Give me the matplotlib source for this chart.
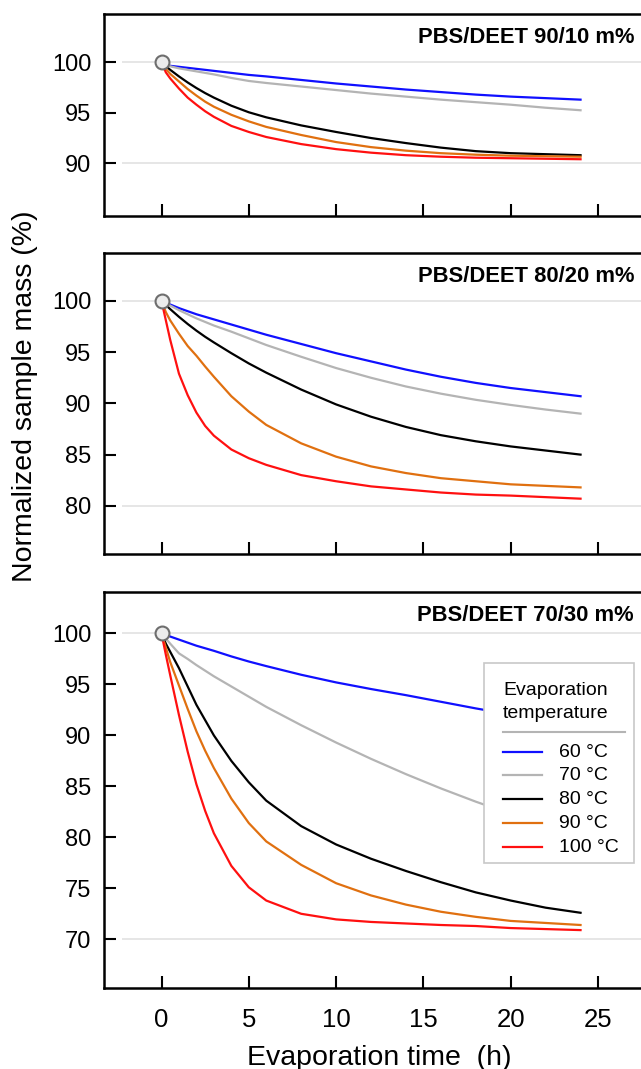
import numpy as np
import matplotlib
matplotlib.use("Agg")
import matplotlib.pyplot as plt
from matplotlib.lines import Line2D
from matplotlib.patches import Rectangle

plt.rcParams['font.family'] = ['Liberation Sans', 'DejaVu Sans']

# evaporation time (h)
t = [0, 0.25, 0.5, 1, 1.5, 2, 2.5, 3, 4, 5, 6, 8, 10, 12, 14, 16, 18, 20, 22, 24]

temps = ['60 °C', '70 °C', '80 °C', '90 °C', '100 °C']
colors = ['#1010ff', '#b4b4b4', '#000000', '#e07010', '#ff1010']

# normalized sample mass (%), PBS/DEET 90/10
m_90_10 = [
    [100, 99.8, 99.65, 99.55, 99.45, 99.35, 99.25, 99.15, 98.95, 98.75, 98.6, 98.25, 97.9, 97.6, 97.3, 97.05, 96.8, 96.6, 96.45, 96.3],
    [100, 99.75, 99.6, 99.4, 99.25, 99.1, 98.95, 98.8, 98.45, 98.15, 97.95, 97.6, 97.25, 96.9, 96.6, 96.3, 96.05, 95.8, 95.5, 95.25],
    [100, 99.6, 99.25, 98.6, 98.0, 97.45, 96.95, 96.5, 95.7, 95.05, 94.55, 93.75, 93.1, 92.5, 92.0, 91.55, 91.2, 91.0, 90.9, 90.8],
    [100, 99.35, 98.85, 98.1, 97.35, 96.7, 96.1, 95.6, 94.8, 94.15, 93.6, 92.8, 92.1, 91.6, 91.25, 91.0, 90.85, 90.75, 90.7, 90.65],
    [100, 99.0, 98.4, 97.4, 96.5, 95.8, 95.15, 94.6, 93.7, 93.1, 92.6, 91.9, 91.4, 91.05, 90.8, 90.65, 90.55, 90.5, 90.45, 90.4],
]
# PBS/DEET 80/20
m_80_20 = [
    [100, 99.8, 99.65, 99.3, 99.0, 98.7, 98.45, 98.2, 97.7, 97.2, 96.7, 95.8, 94.9, 94.1, 93.3, 92.6, 92.0, 91.5, 91.1, 90.7],
    [100, 99.75, 99.55, 99.1, 98.7, 98.3, 97.95, 97.6, 97.0, 96.35, 95.7, 94.55, 93.45, 92.5, 91.65, 90.95, 90.35, 89.85, 89.4, 89.0],
    [100, 99.6, 99.2, 98.45, 97.75, 97.1, 96.5, 95.95, 94.9, 93.9, 93.0, 91.35, 89.9, 88.7, 87.7, 86.9, 86.3, 85.8, 85.4, 85.0],
    [100, 98.9, 98.1, 96.8, 95.6, 94.65, 93.6, 92.6, 90.7, 89.2, 87.9, 86.1, 84.8, 83.85, 83.2, 82.7, 82.4, 82.1, 81.95, 81.8],
    [100, 98.1, 96.2, 92.9, 90.8, 89.1, 87.8, 86.85, 85.5, 84.65, 84.0, 83.0, 82.4, 81.9, 81.6, 81.3, 81.1, 81.0, 80.85, 80.7],
]
# PBS/DEET 70/30
m_70_30 = [
    [100, 99.85, 99.7, 99.4, 99.1, 98.8, 98.55, 98.3, 97.75, 97.25, 96.8, 95.95, 95.2, 94.55, 93.95, 93.3, 92.65, 92.05, 91.45, 90.9],
    [100, 99.5, 99.0, 98.05, 97.5, 96.9, 96.35, 95.8, 94.8, 93.8, 92.8, 91.0, 89.3, 87.7, 86.2, 84.8, 83.5, 82.3, 81.2, 80.2],
    [100, 99.0, 98.2, 96.6, 94.8, 93.0, 91.5, 90.0, 87.5, 85.4, 83.6, 81.1, 79.3, 77.9, 76.7, 75.6, 74.6, 73.8, 73.1, 72.6],
    [100, 98.6, 97.2, 94.9, 92.6, 90.4, 88.5, 86.8, 83.8, 81.4, 79.6, 77.3, 75.5, 74.3, 73.4, 72.7, 72.2, 71.8, 71.6, 71.4],
    [100, 97.9, 95.9, 92.0, 88.4, 85.2, 82.6, 80.4, 77.2, 75.1, 73.8, 72.5, 71.95, 71.7, 71.55, 71.4, 71.3, 71.1, 71.0, 70.9],
]

panels = [
    ('PBS/DEET 90/10 m%', m_90_10, [90, 95, 100], (84.78, 104.78)),
    ('PBS/DEET 80/20 m%', m_80_20, [80, 85, 90, 95, 100], (75.3, 104.65)),
    ('PBS/DEET 70/30 m%', m_70_30, [70, 75, 80, 85, 90, 95, 100], (65.19, 104.04)),
]
xticks = [0, 5, 10, 15, 20, 25]

W, H = 641, 1069
fig = plt.figure(figsize=(W / 100, H / 100), dpi=100)


def fx(x):
    return x / W


def fy(y):
    return 1 - y / H


boxes = [(14, 216), (253.3, 554), (592.3, 988.3)]  # top, bottom in px
x0, x1 = 104, 641
xlim = (-(161.5 - x0) / 17.46, (x1 - 161.5) / 17.46)

axes = []
for (title, data, yt, ylim), (top, bot) in zip(panels, boxes):
    ax = fig.add_axes([fx(x0), fy(bot), (x1 - x0) / W, (bot - top) / H])
    axes.append(ax)
    ax.hlines([yt[0], yt[-1]], -2.25, xlim[1], color='#e2e2e2', lw=1.2, zorder=1)
    for vals, c in zip(data, colors):
        ax.plot(t, vals, color=c, lw=1.6, zorder=3, solid_joinstyle='round')
    ax.plot([0], [100], 'o', ms=10, mfc='#ececec', mec='#6e6e6e', mew=1.5, zorder=5)
    ax.set_xlim(*xlim)
    ax.set_ylim(*ylim)
    ax.set_yticks(yt)
    ax.set_xticks(xticks)
    ax.spines['right'].set_visible(False)
    for s in ['left', 'top', 'bottom']:
        ax.spines[s].set_linewidth(1.8)
    ax.tick_params(axis='both', direction='in', length=8.5, width=1.5, color='black')
    ax.tick_params(axis='y', labelsize=17, pad=9)
    ax.tick_params(axis='x', labelsize=18.5, pad=14)
    ax.text(fx(634), fy(top + 23.5), title, transform=fig.transFigure,
            ha='right', va='center', fontsize=15.8, fontweight='bold')

axes[0].tick_params(axis='x', labelbottom=False)
axes[1].tick_params(axis='x', labelbottom=False)

fig.text(fx(25), fy(396), 'Normalized sample mass (%)', rotation=90,
         ha='center', va='center', fontsize=20.5)
fig.text(fx(379), fy(1058), 'Evaporation time  (h)', ha='center', va='center',
         fontsize=20.5)

# legend box (drawn by hand to get the separator under the title)
fig.add_artist(Rectangle((fx(484), fy(863.3)), (634 - 484) / W, 200 / H,
                         transform=fig.transFigure, facecolor='white',
                         edgecolor='#c8c8c8', lw=1.2, zorder=10))
fig.text(fx(503), fy(695), 'Evaporation', fontsize=14, va='baseline', zorder=11)
fig.text(fx(503), fy(718.5), 'temperature', fontsize=14, va='baseline', zorder=11)
fig.add_artist(Line2D([fx(503), fx(625)], [fy(731.7), fy(731.7)], transform=fig.transFigure,
                      color='#b4b4b4', lw=1.5, zorder=11))
for i, (lab, c) in enumerate(zip(temps, colors)):
    yy = 751.7 + i * 23.75
    fig.add_artist(Line2D([fx(503), fx(542)], [fy(yy), fy(yy)], transform=fig.transFigure,
                          color=c, lw=1.6, zorder=11))
    fig.text(fx(559), fy(yy + 0.5), lab, fontsize=14, va='center', zorder=11)

fig.savefig('out.png', dpi=100)
